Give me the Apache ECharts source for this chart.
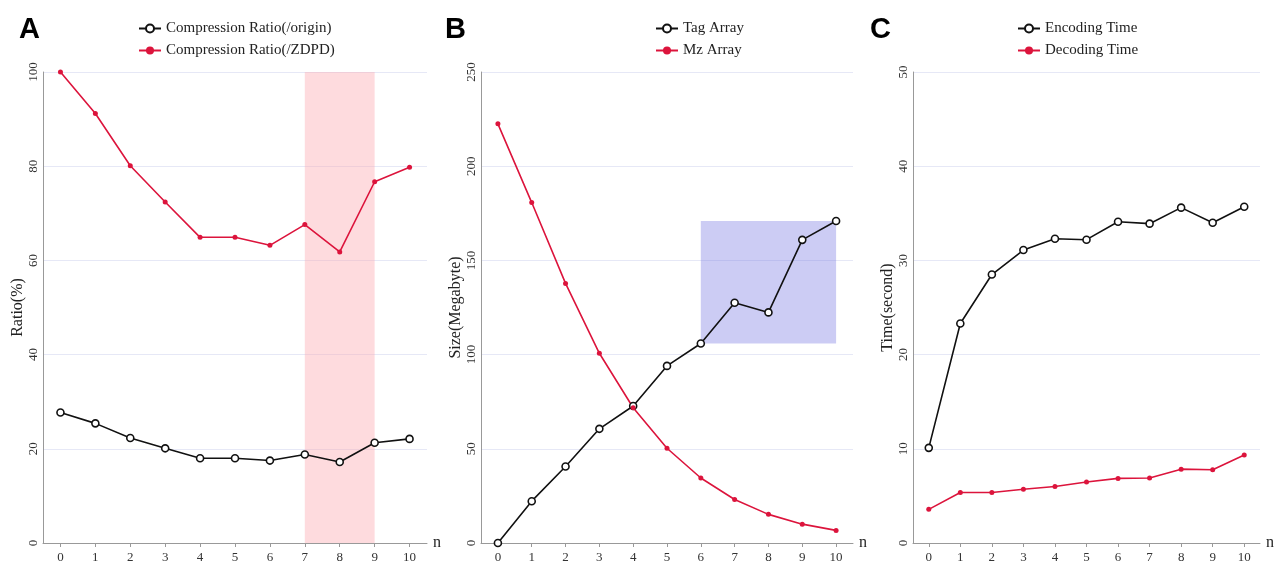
<!DOCTYPE html>
<html>
<head>
<meta charset="utf-8">
<script src="https://cdn.jsdelivr.net/npm/echarts@6/dist/echarts.min.js"></script>
<style>
  html, body { margin: 0; padding: 0; background: #fff; }
  #main { width: 1277px; height: 564px; }
</style>
</head>
<body>
<div id="main"></div>
<script>
var categories = ['0', '1', '2', '3', '4', '5', '6', '7', '8', '9', '10'];

// panel A
var ratioOrigin = [27.7, 25.4, 22.3, 20.1, 18.0, 18.0, 17.5, 18.8, 17.2, 21.3, 22.1];
var ratioZdpd = [100, 91.2, 80.1, 72.4, 64.9, 64.9, 63.2, 67.6, 61.8, 76.7, 79.8];
// panel B
var tagArray = [0, 22.2, 40.6, 60.6, 72.7, 94.0, 105.9, 127.5, 122.4, 160.9, 170.9];
var mzArray = [222.5, 180.7, 137.8, 100.7, 71.8, 50.3, 34.5, 23.1, 15.2, 10.0, 6.7];
// panel C
var encodingTime = [10.1, 23.3, 28.5, 31.1, 32.3, 32.2, 34.1, 33.9, 35.6, 34.0, 35.7];
var decodingTime = [3.57, 5.36, 5.36, 5.71, 5.99, 6.48, 6.86, 6.9, 7.84, 7.77, 9.35];

var RED = '#dc143c';
var SERIF = 'Liberation Serif';

var chart = echarts.init(document.getElementById('main'));

var grids = [
  { left: 43, width: 384, top: 72, bottom: 16 },
  { left: 481, width: 372, top: 72, bottom: 16 },
  { left: 913, width: 352, top: 72, bottom: 16 }
];
var yNames = ['Ratio(%)', 'Size(Megabyte)', 'Time(second)'];
var yMax = [100, 250, 50];
var yStep = [20, 50, 10];

function xAxis(i) {
  return {
    type: 'category',
    gridIndex: i,
    data: categories,
    name: 'n',
    nameGap: 6,
    nameTextStyle: { fontFamily: SERIF, fontSize: 16, color: '#222', verticalAlign: 'middle' },
    axisLine: { lineStyle: { color: '#999' } },
    axisTick: { show: true, alignWithLabel: true, lineStyle: { color: '#999' }, length: 4 },
    axisLabel: { fontFamily: SERIF, fontSize: 13, color: '#333', margin: 8 }
  };
}

function yAxis(i) {
  return {
    type: 'value',
    gridIndex: i,
    min: 0,
    max: yMax[i],
    interval: yStep[i],
    name: yNames[i],
    nameLocation: 'middle',
    nameGap: 17,
    nameTextStyle: { fontFamily: SERIF, fontSize: 16, color: '#222' },
    axisLine: { show: true, lineStyle: { color: '#999' } },
    axisTick: { show: false },
    axisLabel: { rotate: 90, fontFamily: SERIF, fontSize: 13, color: '#333', margin: 3 },
    splitLine: { lineStyle: { color: '#e6e8f6' } }
  };
}

function hollow(name, data, i) {
  return {
    name: name,
    type: 'line',
    xAxisIndex: i,
    yAxisIndex: i,
    data: data,
    symbol: 'circle',
    symbolSize: 7,
    lineStyle: { color: '#111', width: 1.6 },
    itemStyle: { color: '#fff', borderColor: '#111', borderWidth: 1.6 },
    z: 3
  };
}

function filled(name, data, i) {
  return {
    name: name,
    type: 'line',
    xAxisIndex: i,
    yAxisIndex: i,
    data: data,
    symbol: 'circle',
    symbolSize: 5,
    lineStyle: { color: RED, width: 1.6 },
    itemStyle: { color: RED },
    z: 3
  };
}

function legend(left, names) {
  return {
    orient: 'vertical',
    left: left,
    top: 16,
    itemGap: 7,
    itemWidth: 22,
    itemHeight: 10,
    textStyle: { fontFamily: SERIF, fontSize: 15, color: '#222' },
    data: names
  };
}

var seriesA0 = hollow('Compression Ratio(/origin)', ratioOrigin, 0);
var seriesA1 = filled('Compression Ratio(/ZDPD)', ratioZdpd, 0);
seriesA1.markArea = {
  silent: true,
  itemStyle: { color: 'rgba(252, 170, 176, 0.42)' },
  data: [[{ xAxis: '7' }, { xAxis: '9' }]]
};
var seriesB0 = hollow('Tag Array', tagArray, 1);
seriesB0.markArea = {
  silent: true,
  itemStyle: { color: 'rgba(120, 120, 225, 0.38)' },
  data: [[{ coord: ['6', tagArray[6]] }, { coord: ['10', tagArray[10]] }]]
};
var seriesB1 = filled('Mz Array', mzArray, 1);
var seriesC0 = hollow('Encoding Time', encodingTime, 2);
var seriesC1 = filled('Decoding Time', decodingTime, 2);

var titleStyle = { fontFamily: 'Liberation Sans', fontSize: 29, fontWeight: 'bold', color: '#000' };

chart.setOption({
  backgroundColor: '#fff',
  animation: false,
  title: [
    { text: 'A', left: 14, top: 10, textStyle: titleStyle },
    { text: 'B', left: 440, top: 10, textStyle: titleStyle },
    { text: 'C', left: 865, top: 10, textStyle: titleStyle }
  ],
  legend: [
    legend(133, ['Compression Ratio(/origin)', 'Compression Ratio(/ZDPD)']),
    legend(650, ['Tag Array', 'Mz Array']),
    legend(1012, ['Encoding Time', 'Decoding Time'])
  ],
  grid: grids,
  xAxis: [xAxis(0), xAxis(1), xAxis(2)],
  yAxis: [yAxis(0), yAxis(1), yAxis(2)],
  series: [seriesA0, seriesA1, seriesB0, seriesB1, seriesC0, seriesC1]
});
</script>
</body>
</html>
